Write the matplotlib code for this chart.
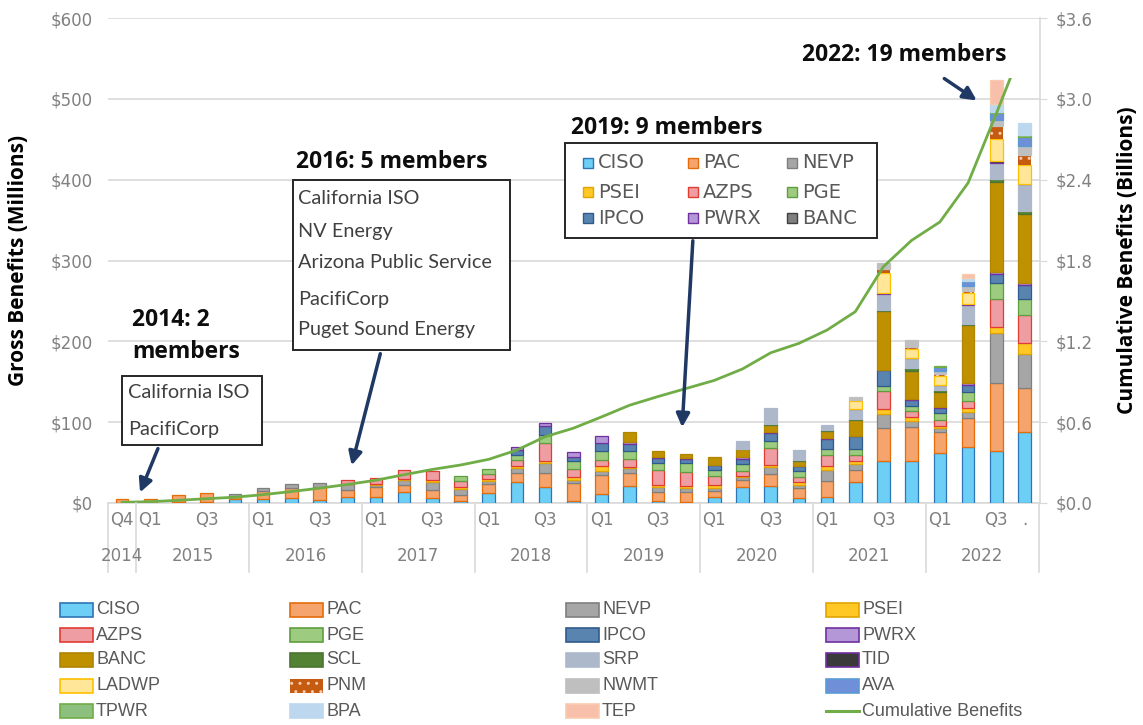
import matplotlib
matplotlib.use('Agg')
import matplotlib.pyplot as plt
import numpy as np
from matplotlib.patches import Rectangle, FancyArrowPatch
from matplotlib.lines import Line2D
import matplotlib.transforms as mtransforms

# ---------------- data ----------------
quarter_labels = ['Q4', 'Q1', '', 'Q3', '', 'Q1', '', 'Q3', '', 'Q1', '', 'Q3', '',
                  'Q1', '', 'Q3', '', 'Q1', '', 'Q3', '', 'Q1', '', 'Q3', '',
                  'Q1', '', 'Q3', '', 'Q1', '', 'Q3', '.']
year_labels = ['2014', '2015', '2016', '2017', '2018', '2019', '2020', '2021', '2022']
year_first = [0, 1, 5, 9, 13, 17, 21, 25, 29]
year_last = [0, 4, 8, 12, 16, 20, 24, 28, 32]

CISO = [0.5, 0.5, 1, 1, 5, 4.5, 6, 3.7, 7, 8, 13, 6, 3, 12, 26.4, 19.4, 3, 11, 21.5, 3, 1,
        7.8, 19.4, 21.5, 5.8, 7, 26.4, 52, 52.4, 61.5, 69.7, 64.4, 88]
PAC = [4.5, 4, 9, 11, 3, 10, 12, 15.7, 9, 11.5, 9, 10, 7, 12, 11, 18, 21.5, 24, 16, 11, 12,
       7.4, 9, 14, 12.4, 20, 14.4, 40.4, 41.3, 26, 35, 84.6, 54.5]
NEVP = [0, 0, 0, 0, 3.5, 4, 5, 5.8, 7, 3, 6, 10, 7.4, 3, 6, 11.5, 4, 4.5, 5.4, 6, 6,
        3, 3.3, 8.7, 4, 14.4, 7, 17.7, 8.3, 5, 8.3, 61, 41.7]
PSEI = [0, 0, 0, 0, 0, 0, 0, 0, 1, 1, 2, 2, 2, 3, 2, 3, 4, 6, 2, 2, 2,
        4, 1.6, 3, 4, 4.5, 4, 5.8, 4, 3.3, 4, 7.4, 14]
AZPS = [0, 0, 0, 0, 0, 0, 0, 0, 4.5, 7, 11, 11, 8, 6, 8, 22, 10, 8, 9, 19, 17,
        11.5, 6, 21, 6.5, 13, 8, 23, 8.3, 6.3, 8.8, 34.5, 34]
PGE = [0] * 12 + [5.4, 6, 5.4, 10, 9, 11, 11, 9, 11, 7.4, 9.5, 8.3, 6.6,
                  8.3, 7.4, 5.4, 5.8, 9, 11.5, 19.8, 20.6]
IPCO = [0] * 14 + [7, 11.5, 5.4, 10, 8, 5.4, 6, 5.4, 6, 10.3, 6,
                   12.4, 15.2, 19.8, 7.8, 7, 8.7, 11.5, 16.9]
PWRX = [0] * 14 + [4, 3.7, 6, 9, 2.5, 1, 0.8, 1, 2, 1, 1, 1, 1, 1, 1, 1, 2, 2.5, 2.9]
BANC = [0] * 18 + [12, 7.4, 4.5, 9.5, 9.5, 8.3, 5.4, 8.3, 19.4, 72, 35, 17.7, 72, 112, 84.6]
SCL = [0] * 22 + [0.8, 2, 2, 2, 1, 2, 3.3, 2.9, 2, 2.9, 4]
SRP = [0] * 22 + [9, 19.4, 11.5, 6, 12.4, 19.4, 12, 6, 22.7, 19.8, 33]
TID = [0] * 26 + [0.5, 1, 0.5, 0.5, 1, 3.3, 1]
LADWP = [0] * 26 + [9, 24.8, 10.3, 10.3, 13.6, 26.8, 23.5]
PNM = [0] * 26 + [2, 5.4, 3.3, 2.9, 2.9, 16, 11.5]
NWMT = [0] * 26 + [2.9, 7.8, 8.3, 4, 6.2, 7.4, 11.5]
AVA = [0] * 29 + [5, 6.2, 8.3, 11.5]
TPWR = [0] * 29 + [0.5, 0.5, 1.5, 2]
BPA = [0] * 29 + [0, 3.3, 10.3, 14.4]
TEP = [0] * 29 + [0, 5, 28.9, 0]

cumulative_billions = [0.005, 0.010, 0.020, 0.032, 0.043, 0.062, 0.085, 0.110, 0.138,
                       0.169, 0.210, 0.249, 0.282, 0.324, 0.393, 0.492, 0.555, 0.639,
                       0.726, 0.790, 0.850, 0.910, 0.995, 1.115, 1.185, 1.284, 1.420,
                       1.755, 1.950, 2.086, 2.376, 2.890, 3.420]

series_names = ['CISO', 'PAC', 'NEVP', 'PSEI', 'AZPS', 'PGE', 'IPCO', 'PWRX', 'BANC', 'SCL',
                'SRP', 'TID', 'LADWP', 'PNM', 'NWMT', 'AVA', 'TPWR', 'BPA', 'TEP']
series_values = [CISO, PAC, NEVP, PSEI, AZPS, PGE, IPCO, PWRX, BANC, SCL,
                 SRP, TID, LADWP, PNM, NWMT, AVA, TPWR, BPA, TEP]

# styles (face, edge)
styles = {
    'CISO': ('#6DCFF6', '#2E75B6'),
    'PAC': ('#F4A46C', '#E46C0A'),
    'NEVP': ('#A6A6A6', '#7F7F7F'),
    'PSEI': ('#FFC825', '#E2A500'),
    'AZPS': ('#EE9EA3', '#E03C31'),
    'PGE': ('#9DCB7F', '#5E9E3E'),
    'IPCO': ('#5A84B0', '#2F5B8C'),
    'PWRX': ('#B497D6', '#7030A0'),
    'BANC': ('#BF9000', '#B08500'),
    'SCL': ('#548235', '#4A7530'),
    'SRP': ('#ADB9CA', '#ADB9CA'),
    'TID': ('#3A3A3A', '#7030A0'),
    'LADWP': ('#FFE699', '#FFC000'),
    'PNM': ('#C55A11', '#F8CBAD'),
    'NWMT': ('#BFBFBF', '#BFBFBF'),
    'AVA': ('#6F8FD8', '#5B9BD5'),
    'TPWR': ('#8DBF7F', '#70AD47'),
    'BPA': ('#BDD7EE', '#BDD7EE'),
    'TEP': ('#F8C0AA', '#F8CBAD'),
}
LINE_COLOR = '#70AD47'
GRAY = '#808080'
ARROW = '#1F3864'

W, H = 1143, 725
fig = plt.figure(figsize=(W / 100, H / 100), dpi=100)
ax = fig.add_axes([108 / W, 1 - 503 / H, (1040 - 108) / W, (503 - 18) / H])
ax2 = ax.twinx()

x = np.arange(len(CISO))
bottom = np.zeros(len(x))
for name, vals in zip(series_names, series_values):
    v = np.array(vals, dtype=float)
    m = v > 0
    face, edge = styles[name]
    kw = dict(color=face, edgecolor=edge, linewidth=0.9, zorder=3)
    if name == 'PNM':
        kw.update(hatch='..', linewidth=0)
    ax.bar(x[m], v[m], bottom=bottom[m], width=0.45, **kw)
    bottom += v

ax.set_xlim(-0.5, 32.55)
ax.set_ylim(0, 600)
ax.set_yticks(np.arange(0, 601, 100))
ax.set_yticklabels(['$%d' % t for t in range(0, 601, 100)])
ax.grid(axis='y', color='#D9D9D9', linewidth=1.2, zorder=0)
ax.set_axisbelow(True)
for s in ['top', 'left', 'right']:
    ax.spines[s].set_visible(False)
ax.spines['bottom'].set_color('#D9D9D9')
ax.spines['bottom'].set_linewidth(1.2)
ax.tick_params(axis='y', length=0, pad=11, labelsize=12, labelcolor=GRAY)
ax.set_xticks([])
ax.set_ylabel('Gross Benefits (Millions)', fontsize=15, fontweight='bold', family='Open Sans')
ax.yaxis.set_label_coords((29 - 108) / 932, 0.5)

ax2.plot(x, cumulative_billions, color=LINE_COLOR, linewidth=2, zorder=4)
ax2.set_ylim(0, 3.6)
ax2.set_yticks(np.arange(0, 3.61, 0.6))
ax2.set_yticklabels(['$%.1f' % t for t in np.arange(0, 3.61, 0.6)])
for s in ['top', 'left', 'bottom']:
    ax2.spines[s].set_visible(False)
ax2.spines['right'].set_color('#D9D9D9')
ax2.spines['right'].set_linewidth(1.2)
ax2.tick_params(axis='y', length=5, color='#D9D9D9', pad=6, labelsize=12, labelcolor=GRAY)
ax2.set_ylabel('Cumulative Benefits (Billions)', fontsize=15, fontweight='bold',
               family='Open Sans', rotation=90)
ax2.yaxis.set_label_coords((1117 - 108) / 932, 0.5)

# category axis labels
btrans = mtransforms.blended_transform_factory(ax.transData, fig.transFigure)
for i, q in enumerate(quarter_labels):
    if q:
        fig.text(i, 1 - 520 / H, q, transform=btrans, ha='center', va='center',
                 fontsize=12, color=GRAY)
for yl, a, b in zip(year_labels, year_first, year_last):
    fig.text((a + b) / 2, 1 - 556 / H, yl, transform=btrans, ha='center', va='center',
             fontsize=12, color=GRAY)
seps = [-0.5] + [b + 0.5 for b in year_last]
for s in seps:
    fig.add_artist(Line2D([s, s], [1 - 503 / H, 1 - 572 / H], transform=btrans,
                          color='#D9D9D9', linewidth=1.2))


def P(px, py):
    return (px / W, 1 - py / H)


def box(x0, y0, x1, y1):
    fig.add_artist(Rectangle(P(x0, y1), (x1 - x0) / W, (y1 - y0) / H, transform=fig.transFigure,
                             facecolor='white', edgecolor='#262626', linewidth=1.4, zorder=5))


def arrow(p0, p1):
    fig.add_artist(FancyArrowPatch(P(*p0), P(*p1), transform=fig.transFigure,
                                   arrowstyle='-|>', mutation_scale=20, color=ARROW,
                                   linewidth=2.5, zorder=6))


head = dict(fontsize=16.5, fontweight='bold', family='Open Sans', color='#0D0D0D',
            ha='left', va='center', zorder=7)
body = dict(fontsize=14.3, family='Lato', color='#404040', ha='left', va='center', zorder=7)

# 2014
fig.text(*P(132, 320), '2014: 2', **head)
fig.text(*P(132, 352), 'members', **head)
box(122, 376, 262, 445)
fig.text(*P(128, 393), 'California ISO', **body)
fig.text(*P(128, 429), 'PacifiCorp', **body)
arrow((159, 446), (139, 495))

# 2016
fig.text(*P(296, 162), '2016: 5 members', **head)
box(293, 180, 510, 350)
for t, yy in zip(['California ISO', 'NV Energy', 'Arizona Public Service', 'PacifiCorp',
                  'Puget Sound Energy'], [199, 231, 263, 299, 330]):
    fig.text(*P(298, yy), t, **body)
arrow((381, 351), (351, 468))

# 2019
fig.text(*P(571, 128), '2019: 9 members', **head)
box(565, 143, 877, 238)
mini = [['CISO', 'PAC', 'NEVP'], ['PSEI', 'AZPS', 'PGE'], ['IPCO', 'PWRX', 'BANC']]
mini_x = [583, 688, 787]
mini_y = [163, 192, 218]
for r, row in enumerate(mini):
    for c, nm in enumerate(row):
        face, edge = styles[nm]
        if nm == 'BANC':
            face, edge = '#7F7F7F', '#404040'
        fig.add_artist(Rectangle(P(mini_x[c], mini_y[r] + 5), 10 / W, 10 / H,
                                 transform=fig.transFigure, facecolor=face, edgecolor=edge,
                                 linewidth=1, zorder=7))
        fig.text(*P(mini_x[c] + 15, mini_y[r]), nm, fontsize=14, color='#595959',
                 ha='left', va='center', zorder=7)
arrow((693, 238), (682, 430))

# 2022
fig.add_artist(Rectangle(P(795, 78), 235 / W, 43 / H, transform=fig.transFigure,
                         facecolor='white', edgecolor='none', zorder=5))
fig.text(*P(802, 55), '2022: 19 members', **head)
arrow((942, 77), (979, 102))

# bottom legend
col_x = [60, 290, 566, 826]
row_y = [610, 635, 660, 686, 711]
entries = series_names + ['Cumulative Benefits']
for i, nm in enumerate(entries):
    r, c = divmod(i, 4)
    px, py = col_x[c], row_y[r]
    if nm == 'Cumulative Benefits':
        fig.add_artist(Line2D([px / W, (px + 33) / W], [1 - py / H, 1 - py / H],
                              transform=fig.transFigure, color=LINE_COLOR, linewidth=2.2))
    else:
        face, edge = styles[nm]
        kw = dict(facecolor=face, edgecolor=edge, linewidth=1.2)
        if nm == 'PNM':
            kw.update(hatch='..', linewidth=0)
        fig.add_artist(Rectangle(P(px, py + 7), 33 / W, 14 / H, transform=fig.transFigure, **kw))
    fig.text(*P(px + 36, py), nm, fontsize=13, family='Liberation Sans', color='#595959',
             ha='left', va='center')

fig.savefig('out.png', dpi=100)
